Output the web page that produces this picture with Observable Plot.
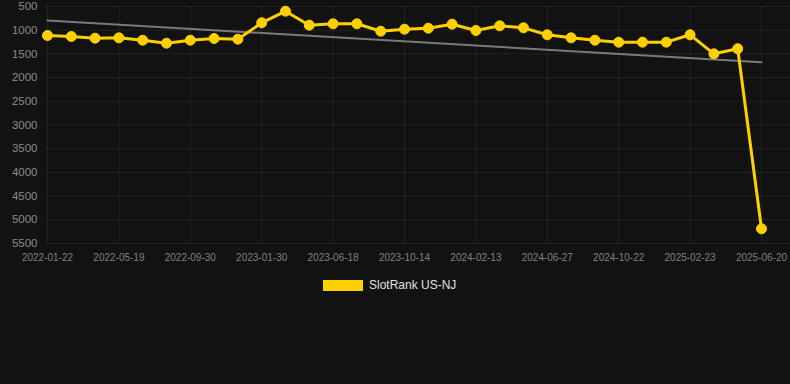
<!DOCTYPE html>
<html>
<head>
<meta charset="utf-8">
<script src="https://cdn.jsdelivr.net/npm/d3@7"></script>
<script src="https://cdn.jsdelivr.net/npm/@observablehq/plot@0.6"></script>
<style>
  html, body { margin: 0; padding: 0; background: #121212; }
  body { width: 790px; height: 384px; position: relative; overflow: hidden; font-family: "Liberation Sans", Arial, sans-serif; }
  #legend { position: absolute; left: 323px; top: 278px; display: flex; align-items: center; color: #e0e0e0; font-size: 12px; }
  #legend .sw { width: 40px; height: 11px; background: #ffd000; margin-right: 6px; }
</style>
</head>
<body>
<div id="chart"></div>
<div id="legend"><div class="sw"></div><span>SlotRank US-NJ</span></div>
<script>
const dates = [
  "2022-01-22","2022-02-28","2022-04-08","2022-05-19","2022-06-30","2022-08-15",
  "2022-09-30","2022-11-10","2022-12-20","2023-01-30","2023-03-18","2023-05-02",
  "2023-06-18","2023-07-28","2023-09-05","2023-10-14","2023-11-24","2024-01-03",
  "2024-02-13","2024-03-29","2024-05-13","2024-06-27","2024-08-05","2024-09-13",
  "2024-10-22","2024-12-03","2025-01-13","2025-02-23","2025-04-02","2025-05-11",
  "2025-06-20"
];
const ranks = [
  1112, 1133, 1168, 1161, 1211, 1274, 1211, 1175, 1189, 844, 599, 894,
  865, 865, 1021, 979, 958, 873, 1006, 907, 950, 1097, 1161, 1211,
  1253, 1253, 1253, 1097, 1498, 1392, 5190
];
const trendDates = ["2022-01-22", "2025-06-20"];
const trendValues = [795, 1675];
const yTicks = [500, 1000, 1500, 2000, 2500, 3000, 3500, 4000, 4500, 5000, 5500];
const xTicks = ["2022-01-22","2022-05-19","2022-09-30","2023-01-30","2023-06-18","2023-10-14",
                "2024-02-13","2024-06-27","2024-10-22","2025-02-23","2025-06-20"];

// categorical positions: index of each date in the category list
const pos = d => dates.indexOf(d);
const data = dates.map((d, i) => ({i: pos(d), rank: ranks[i]}));
const trend = trendDates.map((d, i) => ({i: pos(d), rank: trendValues[i]}));
const xTickPos = xTicks.map(pos);
const gold = "#ffd000";

const chart = Plot.plot({
  width: 790,
  height: 270,
  marginLeft: 45,
  marginRight: 0,
  marginTop: 0,
  marginBottom: 27,
  style: { background: "#121212", color: "#888", fontFamily: "Liberation Sans, Arial, sans-serif" },
  x: { type: "linear", domain: [0, dates.length - 1], range: [47, 761], label: null },
  y: { domain: [500, 5500], range: [6, 243], label: null },
  marks: [
    Plot.gridY(yTicks, { stroke: "#ffffff", strokeOpacity: 0.07, strokeWidth: 1 }),
    Plot.ruleX(xTickPos, { y1: 500, y2: 5500, stroke: "#ffffff", strokeOpacity: 0.07, strokeWidth: 1 }),
    Plot.axisY(yTicks, { tickSize: 0, tickPadding: 8, fontSize: 11.5, fill: "#8a8a8a", label: null, tickFormat: d => String(d) }),
    Plot.axisX(xTickPos, { tickSize: 0, tickPadding: 10, fontSize: 10, fill: "#808080", label: null, tickFormat: i => dates[i] }),
    Plot.line(trend, { x: "i", y: "rank", stroke: "#7a7a7a", strokeWidth: 2 }),
    Plot.line(data, { x: "i", y: "rank", stroke: gold, strokeWidth: 3 }),
    Plot.dot(data, { x: "i", y: "rank", r: 5, fill: gold, stroke: gold, strokeWidth: 1 })
  ]
});
document.getElementById("chart").appendChild(chart);
</script>
</body>
</html>
